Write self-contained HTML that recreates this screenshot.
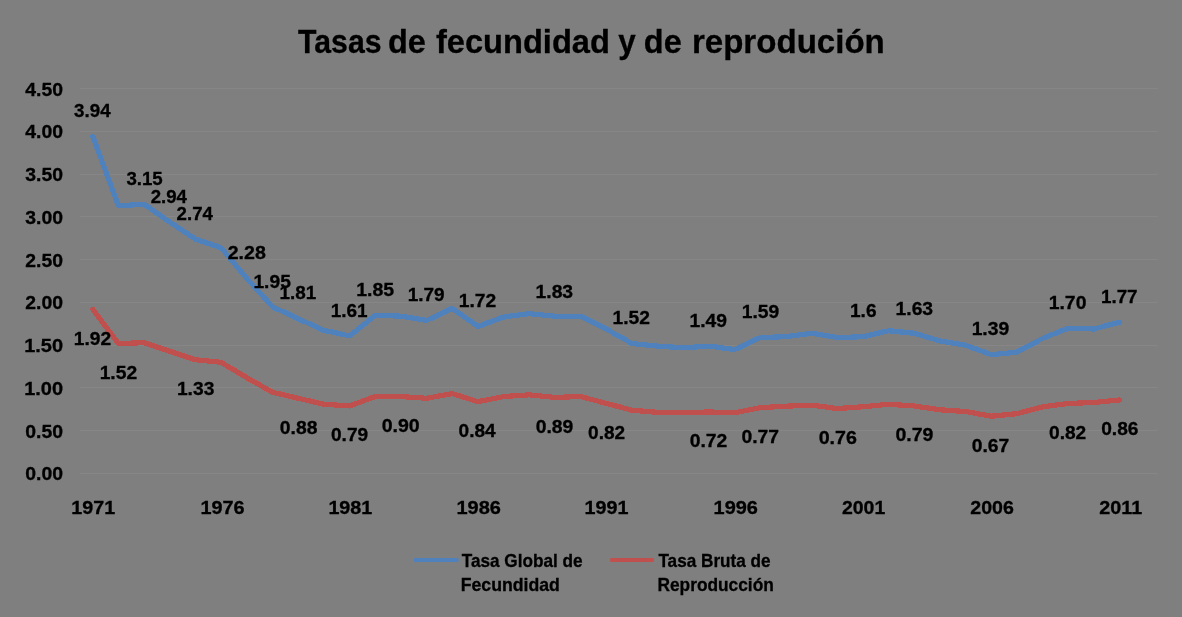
<!DOCTYPE html><html><head><meta charset="utf-8"><style>html,body{margin:0;padding:0;background:#7f7f7f;overflow:hidden}svg{display:block;will-change:transform}</style></head><body>
<svg width="1182" height="617" viewBox="0 0 1182 617">
<rect x="0" y="0" width="1182" height="617" fill="#7f7f7f"/>
<rect x="80" y="473" width="1078" height="1" fill="#868686"/>
<rect x="80" y="430" width="1078" height="1" fill="#868686"/>
<rect x="80" y="387" width="1078" height="1" fill="#868686"/>
<rect x="80" y="345" width="1078" height="1" fill="#868686"/>
<rect x="80" y="302" width="1078" height="1" fill="#868686"/>
<rect x="80" y="259" width="1078" height="1" fill="#868686"/>
<rect x="80" y="216" width="1078" height="1" fill="#868686"/>
<rect x="80" y="174" width="1078" height="1" fill="#868686"/>
<rect x="80" y="131" width="1078" height="1" fill="#868686"/>
<rect x="80" y="88" width="1078" height="1" fill="#868686"/>
<polyline points="92.84,136.63 118.50,205.88 144.18,204.18 169.84,222.13 195.52,239.23 221.19,247.78 246.86,278.56 272.52,306.77 298.20,318.75 323.87,330.29 349.54,335.85 375.21,315.32 400.88,316.18 426.55,320.45 452.22,308.49 477.89,326.44 503.56,317.03 529.23,313.62 554.89,316.18 580.57,316.18 606.24,329.00 631.91,343.54 657.58,346.11 683.25,347.81 708.92,346.11 734.59,349.52 760.25,337.56 785.93,336.70 811.60,333.28 837.27,337.56 862.94,336.70 888.61,330.72 914.28,333.28 939.95,340.98 965.62,345.25 991.29,354.66 1016.96,352.09 1042.62,338.41 1068.30,328.15 1093.97,329.00 1119.63,322.16" fill="none" stroke="#4f81bd" stroke-width="5.2" stroke-linejoin="round" stroke-linecap="round" shape-rendering="crispEdges"/>
<polyline points="92.84,309.34 118.50,343.54 144.18,342.69 169.84,351.24 195.52,359.78 221.19,362.35 246.86,377.74 272.52,392.27 298.20,398.26 323.87,404.25 349.54,405.95 375.21,396.55 400.88,396.55 426.55,398.26 452.22,393.56 477.89,401.68 503.56,396.55 529.23,394.84 554.89,397.40 580.57,396.55 606.24,403.39 631.91,410.23 657.58,412.37 683.25,412.80 708.92,411.94 734.59,412.80 760.25,407.66 785.93,406.21 811.60,405.10 837.27,408.52 862.94,406.81 888.61,404.25 914.28,405.95 939.95,409.80 965.62,411.51 991.29,416.21 1016.96,413.65 1042.62,406.81 1068.30,403.39 1093.97,402.53 1119.63,399.97" fill="none" stroke="#c0504d" stroke-width="5.2" stroke-linejoin="round" stroke-linecap="round" shape-rendering="crispEdges"/>
<rect x="414" y="558" width="44.5" height="4" fill="#4f81bd"/>
<rect x="610.2" y="558" width="43.6" height="4" fill="#c0504d"/>
<text id="t0" font-family="&apos;Liberation Sans&apos;, sans-serif" font-weight="bold" stroke="#000" stroke-width="0.3" font-size="33" transform="translate(298.10 53.20) scale(0.9156 1)">Tasas</text>
<text id="t1" font-family="&apos;Liberation Sans&apos;, sans-serif" font-weight="bold" stroke="#000" stroke-width="0.3" font-size="33" transform="translate(388.02 53.20) scale(0.9838 1)">de</text>
<text id="t2" font-family="&apos;Liberation Sans&apos;, sans-serif" font-weight="bold" stroke="#000" stroke-width="0.3" font-size="33" transform="translate(435.90 53.20) scale(0.9891 1)">fecundidad</text>
<text id="t3" font-family="&apos;Liberation Sans&apos;, sans-serif" font-weight="bold" stroke="#000" stroke-width="0.3" font-size="33" transform="translate(618.30 53.20) scale(0.9526 1)">y</text>
<text id="t4" font-family="&apos;Liberation Sans&apos;, sans-serif" font-weight="bold" stroke="#000" stroke-width="0.3" font-size="33" transform="translate(643.82 53.20) scale(0.9838 1)">de</text>
<text id="t5" font-family="&apos;Liberation Sans&apos;, sans-serif" font-weight="bold" stroke="#000" stroke-width="0.3" font-size="33" transform="translate(691.89 53.20) scale(1.0026 1)">reprodución</text>
<text id="y0" font-family="&apos;Liberation Sans&apos;, sans-serif" font-weight="bold" stroke="#000" stroke-width="0.3" font-size="18" transform="translate(25.30 480.40) scale(1.0771 1)">0.00</text>
<text id="y1" font-family="&apos;Liberation Sans&apos;, sans-serif" font-weight="bold" stroke="#000" stroke-width="0.3" font-size="18" transform="translate(25.30 438.25) scale(1.0771 1)">0.50</text>
<text id="y2" font-family="&apos;Liberation Sans&apos;, sans-serif" font-weight="bold" stroke="#000" stroke-width="0.3" font-size="18" transform="translate(24.19 395.25) scale(1.1088 1)">1.00</text>
<text id="y3" font-family="&apos;Liberation Sans&apos;, sans-serif" font-weight="bold" stroke="#000" stroke-width="0.3" font-size="18" transform="translate(24.19 352.30) scale(1.1088 1)">1.50</text>
<text id="y4" font-family="&apos;Liberation Sans&apos;, sans-serif" font-weight="bold" stroke="#000" stroke-width="0.3" font-size="18" transform="translate(25.30 309.30) scale(1.0771 1)">2.00</text>
<text id="y5" font-family="&apos;Liberation Sans&apos;, sans-serif" font-weight="bold" stroke="#000" stroke-width="0.3" font-size="18" transform="translate(25.30 267.25) scale(1.0771 1)">2.50</text>
<text id="y6" font-family="&apos;Liberation Sans&apos;, sans-serif" font-weight="bold" stroke="#000" stroke-width="0.3" font-size="18" transform="translate(25.30 224.25) scale(1.0771 1)">3.00</text>
<text id="y7" font-family="&apos;Liberation Sans&apos;, sans-serif" font-weight="bold" stroke="#000" stroke-width="0.3" font-size="18" transform="translate(25.30 181.25) scale(1.0771 1)">3.50</text>
<text id="y8" font-family="&apos;Liberation Sans&apos;, sans-serif" font-weight="bold" stroke="#000" stroke-width="0.3" font-size="18" transform="translate(25.30 138.25) scale(1.0771 1)">4.00</text>
<text id="y9" font-family="&apos;Liberation Sans&apos;, sans-serif" font-weight="bold" stroke="#000" stroke-width="0.3" font-size="18" transform="translate(25.30 95.65) scale(1.0771 1)">4.50</text>
<text id="x0" font-family="&apos;Liberation Sans&apos;, sans-serif" font-weight="bold" stroke="#000" stroke-width="0.3" font-size="18" transform="translate(71.30 514.10) scale(1.0974 1)">1971</text>
<text id="x1" font-family="&apos;Liberation Sans&apos;, sans-serif" font-weight="bold" stroke="#000" stroke-width="0.3" font-size="18" transform="translate(200.39 514.10) scale(1.1051 1)">1976</text>
<text id="x2" font-family="&apos;Liberation Sans&apos;, sans-serif" font-weight="bold" stroke="#000" stroke-width="0.3" font-size="18" transform="translate(328.40 514.10) scale(1.0974 1)">1981</text>
<text id="x3" font-family="&apos;Liberation Sans&apos;, sans-serif" font-weight="bold" stroke="#000" stroke-width="0.3" font-size="18" transform="translate(456.49 514.10) scale(1.1103 1)">1986</text>
<text id="x4" font-family="&apos;Liberation Sans&apos;, sans-serif" font-weight="bold" stroke="#000" stroke-width="0.3" font-size="18" transform="translate(584.50 514.10) scale(1.0974 1)">1991</text>
<text id="x5" font-family="&apos;Liberation Sans&apos;, sans-serif" font-weight="bold" stroke="#000" stroke-width="0.3" font-size="18" transform="translate(713.59 514.10) scale(1.1077 1)">1996</text>
<text id="x6" font-family="&apos;Liberation Sans&apos;, sans-serif" font-weight="bold" stroke="#000" stroke-width="0.3" font-size="18" transform="translate(842.00 514.10) scale(1.0800 1)">2001</text>
<text id="x7" font-family="&apos;Liberation Sans&apos;, sans-serif" font-weight="bold" stroke="#000" stroke-width="0.3" font-size="18" transform="translate(970.30 514.10) scale(1.0875 1)">2006</text>
<text id="x8" font-family="&apos;Liberation Sans&apos;, sans-serif" font-weight="bold" stroke="#000" stroke-width="0.3" font-size="18" transform="translate(1099.30 514.10) scale(1.0974 1)">2011</text>
<text id="b0" font-family="&apos;Liberation Sans&apos;, sans-serif" font-weight="bold" stroke="#000" stroke-width="0.3" font-size="18" transform="translate(74.10 117.00) scale(1.0417 1)">3.94</text>
<text id="b1" font-family="&apos;Liberation Sans&apos;, sans-serif" font-weight="bold" stroke="#000" stroke-width="0.3" font-size="18" transform="translate(126.40 184.90) scale(1.0371 1)">3.15</text>
<text id="b2" font-family="&apos;Liberation Sans&apos;, sans-serif" font-weight="bold" stroke="#000" stroke-width="0.3" font-size="18" transform="translate(150.70 203.10) scale(1.0333 1)">2.94</text>
<text id="b3" font-family="&apos;Liberation Sans&apos;, sans-serif" font-weight="bold" stroke="#000" stroke-width="0.3" font-size="18" transform="translate(176.60 220.00) scale(1.0361 1)">2.74</text>
<text id="b4" font-family="&apos;Liberation Sans&apos;, sans-serif" font-weight="bold" stroke="#000" stroke-width="0.3" font-size="18" transform="translate(227.70 259.00) scale(1.0886 1)">2.28</text>
<text id="b5" font-family="&apos;Liberation Sans&apos;, sans-serif" font-weight="bold" stroke="#000" stroke-width="0.3" font-size="18" transform="translate(253.43 288.10) scale(1.0676 1)">1.95</text>
<text id="b6" font-family="&apos;Liberation Sans&apos;, sans-serif" font-weight="bold" stroke="#000" stroke-width="0.3" font-size="18" transform="translate(279.55 299.00) scale(1.0471 1)">1.81</text>
<text id="b7" font-family="&apos;Liberation Sans&apos;, sans-serif" font-weight="bold" stroke="#000" stroke-width="0.3" font-size="18" transform="translate(330.65 317.20) scale(1.0529 1)">1.61</text>
<text id="b8" font-family="&apos;Liberation Sans&apos;, sans-serif" font-weight="bold" stroke="#000" stroke-width="0.3" font-size="18" transform="translate(356.22 296.00) scale(1.0824 1)">1.85</text>
<text id="b9" font-family="&apos;Liberation Sans&apos;, sans-serif" font-weight="bold" stroke="#000" stroke-width="0.3" font-size="18" transform="translate(407.64 301.30) scale(1.0559 1)">1.79</text>
<text id="b10" font-family="&apos;Liberation Sans&apos;, sans-serif" font-weight="bold" stroke="#000" stroke-width="0.3" font-size="18" transform="translate(458.73 307.20) scale(1.0706 1)">1.72</text>
<text id="b11" font-family="&apos;Liberation Sans&apos;, sans-serif" font-weight="bold" stroke="#000" stroke-width="0.3" font-size="18" transform="translate(535.53 298.10) scale(1.0735 1)">1.83</text>
<text id="b12" font-family="&apos;Liberation Sans&apos;, sans-serif" font-weight="bold" stroke="#000" stroke-width="0.3" font-size="18" transform="translate(612.53 323.80) scale(1.0706 1)">1.52</text>
<text id="b13" font-family="&apos;Liberation Sans&apos;, sans-serif" font-weight="bold" stroke="#000" stroke-width="0.3" font-size="18" transform="translate(689.53 327.20) scale(1.0706 1)">1.49</text>
<text id="b14" font-family="&apos;Liberation Sans&apos;, sans-serif" font-weight="bold" stroke="#000" stroke-width="0.3" font-size="18" transform="translate(741.73 317.90) scale(1.0706 1)">1.59</text>
<text id="b15" font-family="&apos;Liberation Sans&apos;, sans-serif" font-weight="bold" stroke="#000" stroke-width="0.3" font-size="18" transform="translate(850.04 317.10) scale(1.0583 1)">1.6</text>
<text id="b16" font-family="&apos;Liberation Sans&apos;, sans-serif" font-weight="bold" stroke="#000" stroke-width="0.3" font-size="18" transform="translate(895.53 315.20) scale(1.0735 1)">1.63</text>
<text id="b17" font-family="&apos;Liberation Sans&apos;, sans-serif" font-weight="bold" stroke="#000" stroke-width="0.3" font-size="18" transform="translate(971.63 335.20) scale(1.0735 1)">1.39</text>
<text id="b18" font-family="&apos;Liberation Sans&apos;, sans-serif" font-weight="bold" stroke="#000" stroke-width="0.3" font-size="18" transform="translate(1048.72 309.40) scale(1.0765 1)">1.70</text>
<text id="b19" font-family="&apos;Liberation Sans&apos;, sans-serif" font-weight="bold" stroke="#000" stroke-width="0.3" font-size="18" transform="translate(1100.95 302.70) scale(1.0471 1)">1.77</text>
<text id="r0" font-family="&apos;Liberation Sans&apos;, sans-serif" font-weight="bold" stroke="#000" stroke-width="0.3" font-size="18" transform="translate(73.73 345.20) scale(1.0676 1)">1.92</text>
<text id="r1" font-family="&apos;Liberation Sans&apos;, sans-serif" font-weight="bold" stroke="#000" stroke-width="0.3" font-size="18" transform="translate(99.63 379.30) scale(1.0706 1)">1.52</text>
<text id="r2" font-family="&apos;Liberation Sans&apos;, sans-serif" font-weight="bold" stroke="#000" stroke-width="0.3" font-size="18" transform="translate(176.93 395.40) scale(1.0676 1)">1.33</text>
<text id="r3" font-family="&apos;Liberation Sans&apos;, sans-serif" font-weight="bold" stroke="#000" stroke-width="0.3" font-size="18" transform="translate(279.80 433.80) scale(1.0743 1)">0.88</text>
<text id="r4" font-family="&apos;Liberation Sans&apos;, sans-serif" font-weight="bold" stroke="#000" stroke-width="0.3" font-size="18" transform="translate(331.00 440.90) scale(1.0600 1)">0.79</text>
<text id="r5" font-family="&apos;Liberation Sans&apos;, sans-serif" font-weight="bold" stroke="#000" stroke-width="0.3" font-size="18" transform="translate(381.70 432.40) scale(1.0857 1)">0.90</text>
<text id="r6" font-family="&apos;Liberation Sans&apos;, sans-serif" font-weight="bold" stroke="#000" stroke-width="0.3" font-size="18" transform="translate(458.60 437.00) scale(1.0611 1)">0.84</text>
<text id="r7" font-family="&apos;Liberation Sans&apos;, sans-serif" font-weight="bold" stroke="#000" stroke-width="0.3" font-size="18" transform="translate(535.70 432.90) scale(1.0743 1)">0.89</text>
<text id="r8" font-family="&apos;Liberation Sans&apos;, sans-serif" font-weight="bold" stroke="#000" stroke-width="0.3" font-size="18" transform="translate(588.10 439.00) scale(1.0571 1)">0.82</text>
<text id="r9" font-family="&apos;Liberation Sans&apos;, sans-serif" font-weight="bold" stroke="#000" stroke-width="0.3" font-size="18" transform="translate(689.70 447.00) scale(1.0743 1)">0.72</text>
<text id="r10" font-family="&apos;Liberation Sans&apos;, sans-serif" font-weight="bold" stroke="#000" stroke-width="0.3" font-size="18" transform="translate(741.50 442.90) scale(1.0743 1)">0.77</text>
<text id="r11" font-family="&apos;Liberation Sans&apos;, sans-serif" font-weight="bold" stroke="#000" stroke-width="0.3" font-size="18" transform="translate(818.70 444.00) scale(1.0914 1)">0.76</text>
<text id="r12" font-family="&apos;Liberation Sans&apos;, sans-serif" font-weight="bold" stroke="#000" stroke-width="0.3" font-size="18" transform="translate(895.50 441.10) scale(1.0829 1)">0.79</text>
<text id="r13" font-family="&apos;Liberation Sans&apos;, sans-serif" font-weight="bold" stroke="#000" stroke-width="0.3" font-size="18" transform="translate(971.80 452.30) scale(1.0714 1)">0.67</text>
<text id="r14" font-family="&apos;Liberation Sans&apos;, sans-serif" font-weight="bold" stroke="#000" stroke-width="0.3" font-size="18" transform="translate(1049.00 439.20) scale(1.0629 1)">0.82</text>
<text id="r15" font-family="&apos;Liberation Sans&apos;, sans-serif" font-weight="bold" stroke="#000" stroke-width="0.3" font-size="18" transform="translate(1101.20 435.20) scale(1.0629 1)">0.86</text>
<text id="lg1" font-family="&apos;Liberation Sans&apos;, sans-serif" font-weight="bold" stroke="#000" stroke-width="0.3" font-size="18" transform="translate(461.70 566.70) scale(0.9551 1)">Tasa Global de</text>
<text id="lg2" font-family="&apos;Liberation Sans&apos;, sans-serif" font-weight="bold" stroke="#000" stroke-width="0.3" font-size="18" transform="translate(460.72 591.00) scale(0.9828 1)">Fecundidad</text>
<text id="lr1" font-family="&apos;Liberation Sans&apos;, sans-serif" font-weight="bold" stroke="#000" stroke-width="0.3" font-size="18" transform="translate(658.40 566.70) scale(0.9534 1)">Tasa Bruta de</text>
<text id="lr2" font-family="&apos;Liberation Sans&apos;, sans-serif" font-weight="bold" stroke="#000" stroke-width="0.3" font-size="18" transform="translate(657.44 591.00) scale(0.9622 1)">Reproducción</text>
</svg></body></html>
